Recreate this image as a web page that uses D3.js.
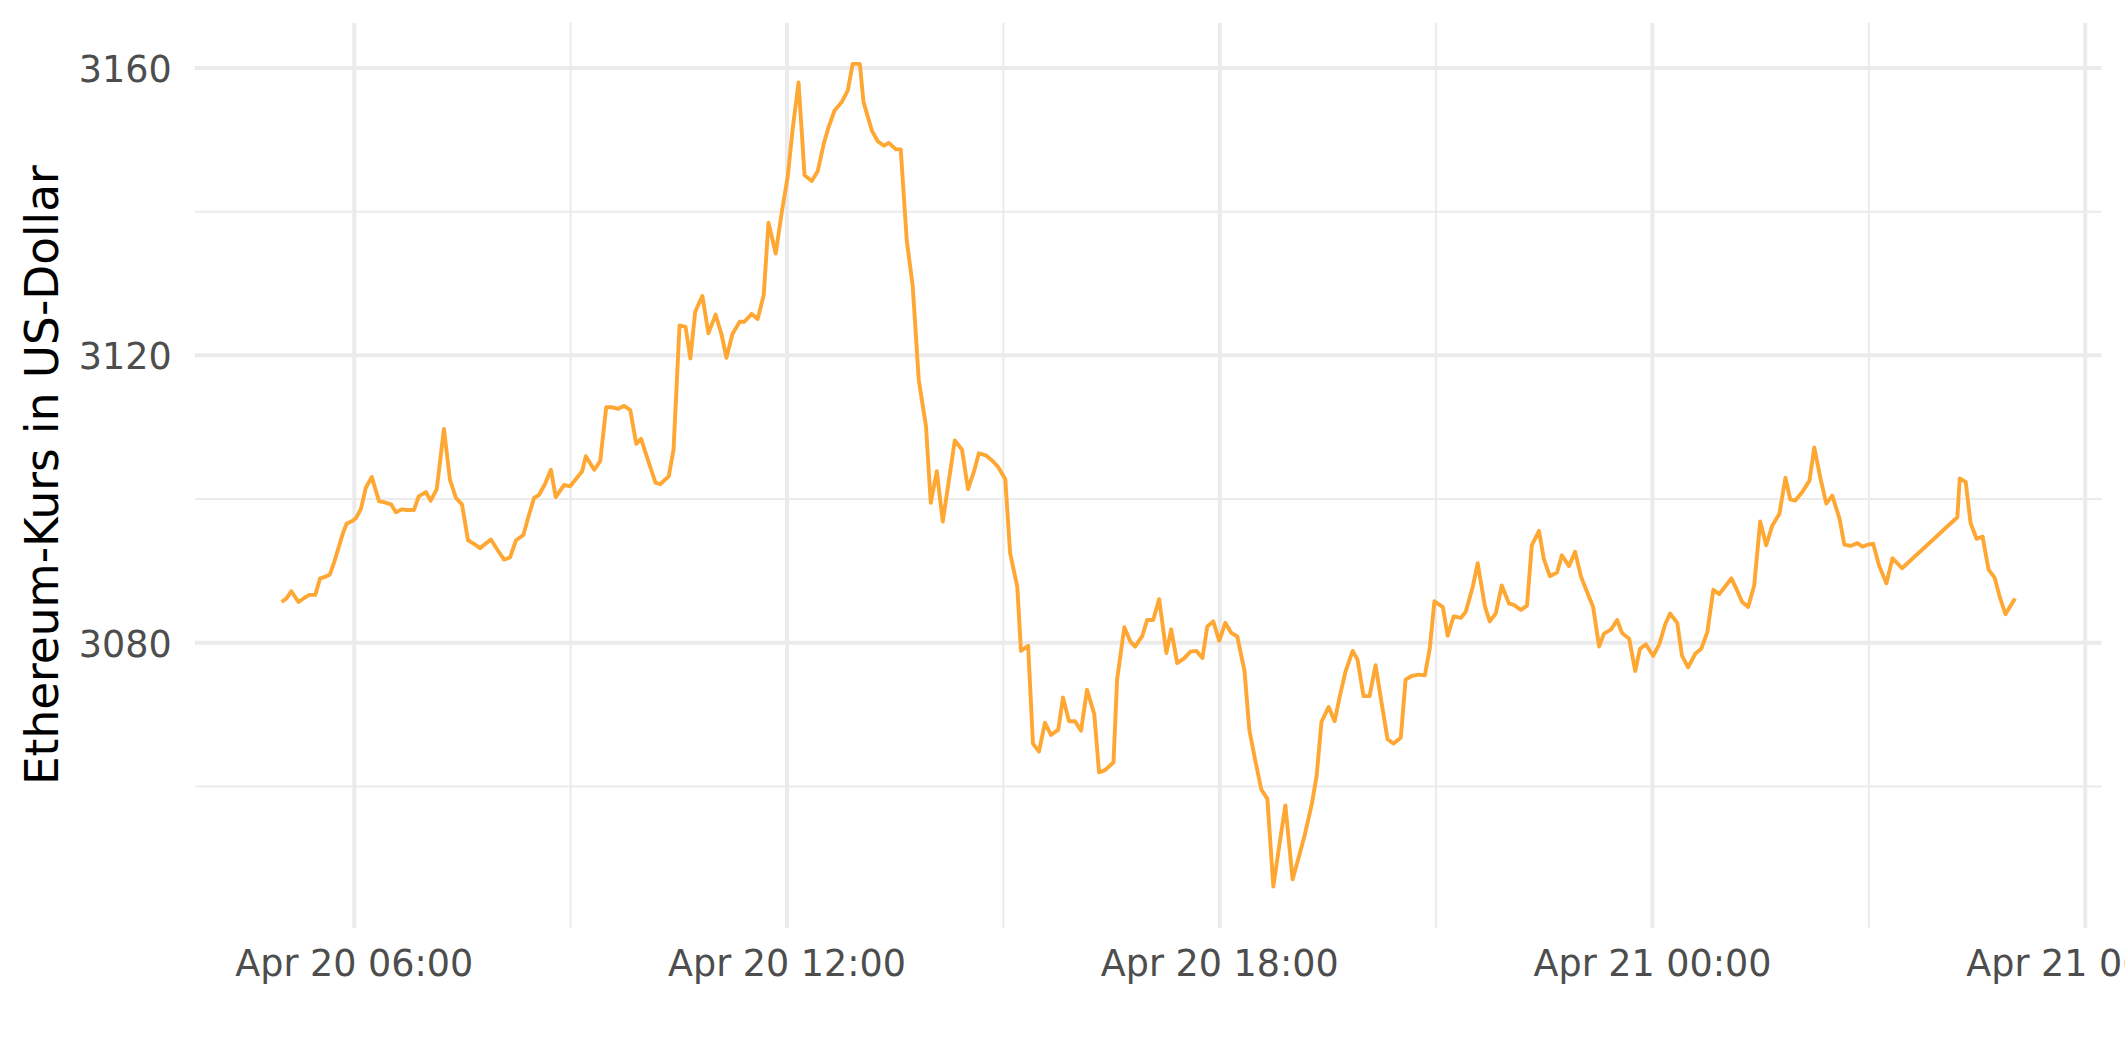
<!DOCTYPE html>
<html>
<head>
<meta charset="utf-8">
<script src="https://cdn.jsdelivr.net/npm/d3@7"></script>
<style>
  html, body { margin: 0; padding: 0; background: #ffffff; }
  svg { display: block; }
  text { font-family: "DejaVu Sans", sans-serif; }
</style>
</head>
<body>
<svg id="chart" width="2125" height="1062"></svg>
<script>
// ---- Data (minutes after Apr 20 00:00, price in USD) ----
const minutes = [
  300,304,308,314,319,323,328,332,336,340,344,351,354,359,362,366,370,375,381,385,
  391,395,400,404,410,414,420,424,429,435,440,445,450,455,460,465,474,481,485,490,
  495,501,505,510,514,519,524,528,535,540,550,553,560,565,570,575,580,585,590,595,
  599,605,611,615,622,626,631,636,640,644,650,655,661,666,670,675,681,685,691,696,
  701,705,711,716,721,725,730,735,741,746,751,755,760,766,771,775,781,784,791,796,
  801,805,811,815,820,825,830,836,840,845,850,860,866,871,876,880,886,891,896,902,
  906,912,915,921,925,930,935,940,946,950,955,960,965,970,976,980,985,992,995,1001,
  1006,1010,1016,1020,1025,1030,1036,1040,1045,1051,1056,1061,1066,1070,1075,1080,1085,1090,1095,1101,
  1105,1110,1115,1120,1125,1130,1135,1141,1146,1151,1157,1161,1165,1171,1176,1180,1185,1191,1195,1200,
  1205,1210,1215,1220,1225,1231,1235,1240,1246,1251,1255,1259,1266,1270,1275,1281,1285,1291,1295,1301,
  1305,1310,1315,1321,1325,1331,1336,1340,1346,1350,1355,1361,1365,1371,1376,1381,1385,1391,1396,1400,
  1406,1411,1415,1421,1426,1430,1435,1441,1446,1451,1455,1461,1465,1470,1476,1481,1486,1491,1496,1501,
  1506,1510,1515,1520,1525,1530,1535,1540,1546,1551,1555,1559,1565,1571,1575,1580,1585,1590,1596,1600,
  1605,1611,1615,1620,1624,1629,1635,1640,1648,1694,1696,1701,1705,1710,1715,1720,1725,1729,1734,1742
];
const prices = [
  3085.6,3086.1,3087.1,3085.6,3086.2,3086.6,3086.6,3088.9,3089.1,3089.4,3091.3,3095.2,3096.5,3096.9,3097.3,3098.6,3101.5,3103.0,3099.6,3099.5,
  3099.2,3098.1,3098.5,3098.4,3098.4,3100.3,3100.9,3099.7,3101.3,3109.7,3102.6,3100.1,3099.2,3094.2,3093.7,3093.1,3094.3,3092.5,3091.5,3091.8,
  3094.2,3094.9,3097.3,3100.1,3100.5,3102.0,3104.0,3100.2,3101.9,3101.7,3103.8,3105.9,3104.0,3105.2,3112.7,3112.7,3112.5,3112.9,3112.3,3107.6,
  3108.3,3105.2,3102.2,3102.0,3103.1,3106.8,3124.1,3123.9,3119.5,3126.0,3128.2,3123.0,3125.6,3122.8,3119.6,3122.9,3124.6,3124.6,3125.7,3125.0,
  3128.3,3138.4,3134.1,3139.8,3144.8,3151.3,3157.9,3145.0,3144.2,3145.6,3149.4,3151.7,3154.0,3155.2,3156.8,3160.5,3160.5,3155.2,3151.2,3149.7,
  3149.1,3149.5,3148.6,3148.6,3136.0,3129.5,3116.5,3110.1,3099.4,3103.8,3096.8,3108.1,3106.8,3101.3,3103.8,3106.3,3106.0,3105.3,3104.4,3102.7,
  3092.4,3087.7,3078.8,3079.5,3065.9,3064.8,3068.8,3067.1,3067.8,3072.3,3069.0,3069.0,3067.7,3073.4,3070.0,3061.9,3062.2,3063.3,3074.8,3082.1,
  3080.1,3079.4,3080.9,3083.1,3083.1,3086.0,3078.5,3081.8,3077.1,3077.8,3078.7,3078.8,3077.8,3082.2,3082.9,3080.2,3082.7,3081.3,3080.8,3076.0,
  3067.8,3063.5,3059.5,3058.2,3046.0,3051.8,3057.3,3047.0,3050.0,3053.1,3057.5,3061.4,3068.9,3071.0,3069.0,3072.3,3075.9,3078.8,3077.6,3072.5,
  3072.5,3076.8,3071.6,3066.5,3065.9,3066.7,3074.8,3075.3,3075.5,3075.4,3079.0,3085.7,3084.9,3080.9,3083.6,3083.4,3084.2,3087.8,3091.0,3085.0,
  3082.9,3084.0,3087.9,3085.4,3085.2,3084.5,3085.1,3093.5,3095.5,3091.6,3089.2,3089.7,3092.1,3090.6,3092.6,3089.1,3087.4,3084.9,3079.4,3081.2,
  3081.8,3083.1,3081.3,3080.5,3076.0,3079.1,3079.7,3078.1,3079.7,3082.5,3084.0,3082.7,3078.1,3076.5,3078.4,3079.1,3081.4,3087.3,3086.7,3087.8,
  3088.9,3087.5,3085.6,3084.9,3087.9,3096.8,3093.5,3096.2,3097.9,3102.9,3099.9,3099.7,3100.9,3102.5,3107.1,3102.9,3099.3,3100.4,3097.2,3093.6,
  3093.4,3093.8,3093.3,3093.6,3093.7,3090.6,3088.2,3091.7,3090.3,3097.4,3102.8,3102.3,3096.6,3094.4,3094.7,3090.1,3089.0,3086.5,3083.9,3086.1
];
const xMajorTicks = ["2024-04-20T06:00","2024-04-20T12:00","2024-04-20T18:00","2024-04-21T00:00","2024-04-21T06:00"];
const xMinorTicks = ["2024-04-20T09:00","2024-04-20T15:00","2024-04-20T21:00","2024-04-21T03:00"];
const yMajorTicks = [3080, 3120, 3160];
const yMinorTicks = [3060, 3100, 3140];
const yTitle = "Ethereum-Kurs in US-Dollar";

// ---- Build ----
const base = new Date(2024, 3, 20, 0, 0);
const data = minutes.map((m, i) => ({ t: new Date(base.getTime() + m * 60000), v: prices[i] }));
const parse = s => new Date(s);

const panel = { left: 195, right: 2101.7, top: 22.7, bottom: 927.7 };
const svg = d3.select("#chart");

function expand(ext) { const r = ext[1] - ext[0]; return [ext[0] - r * 0.05, ext[1] + r * 0.05]; }
const tExt = d3.extent(data, d => d.t.getTime());
const tDom = expand(tExt).map(v => new Date(v));
const x = d3.scaleTime().domain(tDom).range([panel.left, panel.right]);
const y = d3.scaleLinear().domain(expand(d3.extent(data, d => d.v))).range([panel.bottom, panel.top]);

const W = panel.right - panel.left, H = panel.bottom - panel.top;
const grid = "#EBEBEB";

// minor gridlines
svg.append("g").attr("transform", `translate(${panel.left},0)`)
  .call(d3.axisLeft(y).tickValues(yMinorTicks).tickSize(-W).tickFormat(""))
  .call(g => g.select(".domain").remove())
  .call(g => g.selectAll("line").attr("stroke", grid).attr("stroke-width", 2));
svg.append("g").attr("transform", `translate(0,${panel.bottom})`)
  .call(d3.axisBottom(x).tickValues(xMinorTicks.map(parse)).tickSize(-H).tickFormat(""))
  .call(g => g.select(".domain").remove())
  .call(g => g.selectAll("line").attr("stroke", grid).attr("stroke-width", 2));

// major gridlines
svg.append("g").attr("transform", `translate(${panel.left},0)`)
  .call(d3.axisLeft(y).tickValues(yMajorTicks).tickSize(-W).tickFormat(""))
  .call(g => g.select(".domain").remove())
  .call(g => g.selectAll("line").attr("stroke", grid).attr("stroke-width", 4));
svg.append("g").attr("transform", `translate(0,${panel.bottom})`)
  .call(d3.axisBottom(x).tickValues(xMajorTicks.map(parse)).tickSize(-H).tickFormat(""))
  .call(g => g.select(".domain").remove())
  .call(g => g.selectAll("line").attr("stroke", grid).attr("stroke-width", 4));

// axis labels
const fmt = d3.timeFormat("%b %d %H:%M");
svg.append("g").attr("transform", `translate(0,${panel.bottom})`)
  .call(d3.axisBottom(x).tickValues(xMajorTicks.map(parse)).tickSize(0).tickFormat(fmt))
  .call(g => g.select(".domain").remove())
  .call(g => g.selectAll("text")
    .attr("y", 48.3).attr("dy", 0)
    .attr("fill", "#4D4D4D")
    .style("font-size", "36.5px").style("font-family", "DejaVu Sans"));

svg.append("g").attr("transform", `translate(${panel.left},0)`)
  .call(d3.axisLeft(y).tickValues(yMajorTicks).tickSize(0).tickFormat(d3.format("d")))
  .call(g => g.select(".domain").remove())
  .call(g => g.selectAll("text")
    .attr("x", -23.3).attr("dy", "0.38em")
    .attr("fill", "#4D4D4D")
    .style("font-size", "36.5px").style("font-family", "DejaVu Sans"));

// y title
svg.append("text")
  .attr("transform", `translate(58,${(panel.top + panel.bottom) / 2}) rotate(-90)`)
  .attr("text-anchor", "middle")
  .attr("fill", "#000000")
  .style("font-size", "45.4px")
  .text(yTitle);

// line
const line = d3.line().x(d => x(d.t)).y(d => y(d.v));
svg.append("path").datum(data)
  .attr("fill", "none")
  .attr("stroke", "#FFA733")
  .attr("stroke-width", 3.9)
  .attr("stroke-linejoin", "round")
  .attr("stroke-linecap", "butt")
  .attr("d", line);
</script>
</body>
</html>
